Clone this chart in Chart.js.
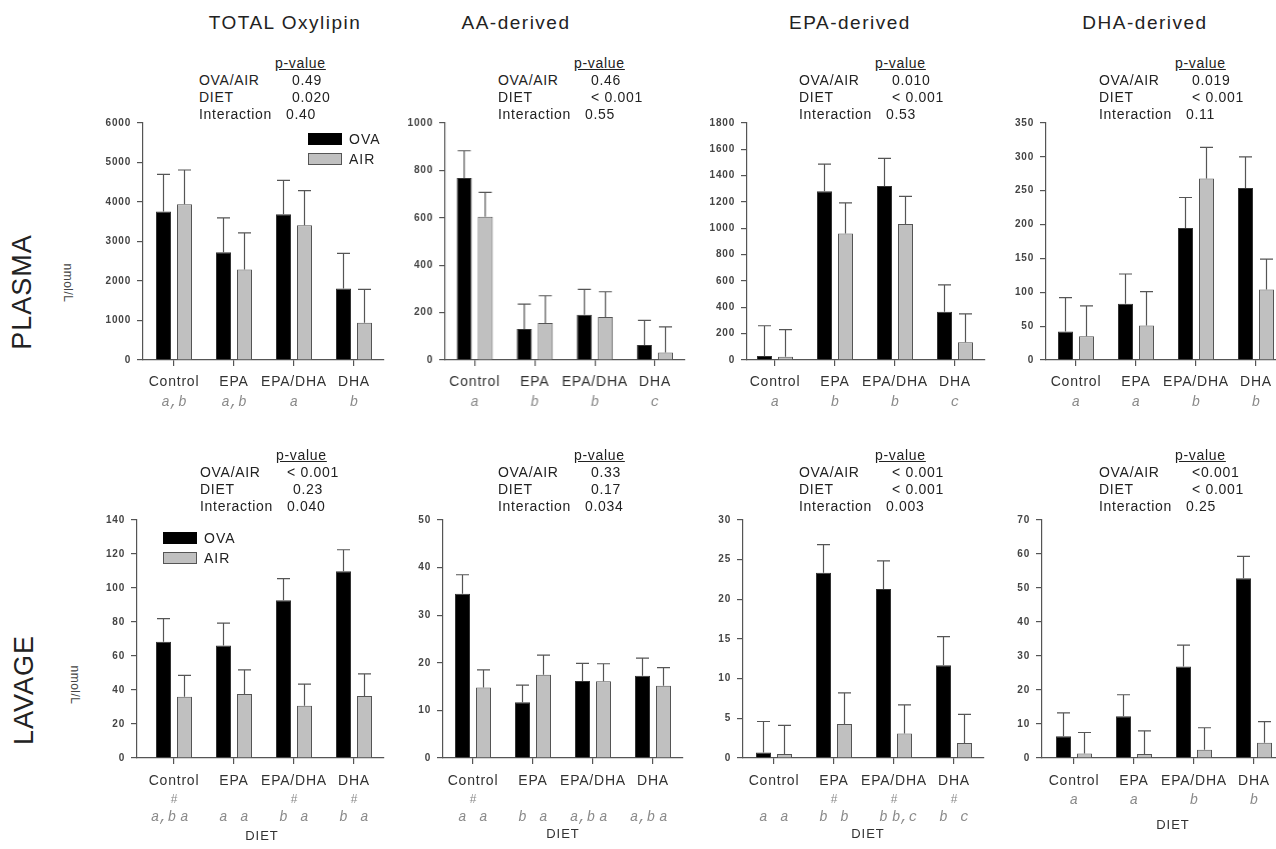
<!DOCTYPE html>
<html>
<head>
<meta charset="utf-8">
<script src="https://cdn.jsdelivr.net/npm/chart.js@4.4.0/dist/chart.umd.min.js"></script>
<style>
body { margin: 0; width: 1276px; height: 849px; overflow: hidden; background: #fff; position: relative;
       font-family: 'Liberation Sans', Arial, sans-serif; color: #222; }
canvas { position: absolute; }
.t { position: absolute; white-space: pre; line-height: 1; }
</style>
</head>
<body>
<script>
// Kategorien (Diät)
const dieten = ['Control', 'EPA', 'EPA/DHA', 'DHA'];
const titel = ['TOTAL Oxylipin', 'AA-derived', 'EPA-derived', 'DHA-derived'];

// PLASMA - Mittelwerte und Fehler (obere Fehlerbalken)
const totalPlasmaOva = [3760, 2730, 3690, 1810];
const totalPlasmaOvaErr = [940, 870, 860, 890];
const totalPlasmaAir = [3940, 2290, 3410, 940];
const totalPlasmaAirErr = [870, 930, 880, 850];

const aaPlasmaOva = [768, 131, 191, 63];
const aaPlasmaOvaErr = [115, 105, 107, 104];
const aaPlasmaAir = [604, 156, 181, 32];
const aaPlasmaAirErr = [103, 115, 107, 108];

const epaPlasmaOva = [30, 1282, 1322, 366];
const epaPlasmaOvaErr = [230, 205, 210, 205];
const epaPlasmaAir = [25, 961, 1032, 135];
const epaPlasmaAirErr = [205, 233, 210, 216];

const dhaPlasmaOva = [42, 83, 195, 254];
const dhaPlasmaOvaErr = [50, 44, 45, 46];
const dhaPlasmaAir = [35, 51, 268, 104];
const dhaPlasmaAirErr = [45, 50, 46, 45];

// LAVAGE
const totalLavageOva = [68.4, 66.2, 92.8, 109.8];
const totalLavageOvaErr = [13.6, 13.1, 12.7, 12.7];
const totalLavageAir = [36.1, 37.7, 30.7, 36.5];
const totalLavageAirErr = [12.5, 14.1, 12.7, 13];

const aaLavageOva = [34.5, 11.7, 16.2, 17.3];
const aaLavageOvaErr = [4.0, 3.6, 3.7, 3.7];
const aaLavageAir = [14.8, 17.5, 16.1, 15.2];
const aaLavageAirErr = [3.7, 4.1, 3.7, 3.8];

const epaLavageOva = [0.7, 23.35, 21.3, 11.7];
const epaLavageOvaErr = [3.9, 3.55, 3.55, 3.6];
const epaLavageAir = [0.5, 4.3, 3.1, 1.9];
const epaLavageAirErr = [3.6, 3.9, 3.6, 3.6];

const dhaLavageOva = [6.4, 12.3, 26.9, 52.9];
const dhaLavageOvaErr = [6.9, 6.3, 6.3, 6.4];
const dhaLavageAir = [1.3, 1.2, 2.4, 4.5];
const dhaLavageAirErr = [6.2, 6.8, 6.5, 6.2];

// Y-Achsen (Maximum, Schrittweite)
const yMax = [6000, 1000, 1800, 350, 140, 50, 30, 70];
const yStep = [1000, 200, 200, 50, 20, 10, 5, 10];

// p-Werte
const pOvaAir = ['0.49', '0.46', '0.010', '0.019', '< 0.001', '0.33', '< 0.001', '<0.001'];
const pDiet = ['0.020', '< 0.001', '< 0.001', '< 0.001', '0.23', '0.17', '< 0.001', '< 0.001'];
const pInteraction = ['0.40', '0.55', '0.53', '0.11', '0.040', '0.034', '0.003', '0.25'];

// Buchstaben unter den Gruppen
const lettersTotalPlasma = ['a,b', 'a,b', 'a', 'b'];
const lettersAaPlasma = ['a', 'b', 'b', 'c'];
const lettersEpaPlasma = ['a', 'b', 'b', 'c'];
const lettersDhaPlasma = ['a', 'a', 'b', 'b'];
const lettersTotalLavageOva = ['a,b', 'a', 'b', 'b'];
const lettersTotalLavageAir = ['a', 'a', 'a', 'a'];
const hashTotalLavage = [true, false, true, true];
const lettersAaLavageOva = ['a', 'b', 'a,b', 'a,b'];
const lettersAaLavageAir = ['a', 'a', 'a', 'a'];
const hashAaLavage = [true, false, false, false];
const lettersEpaLavageOva = ['a', 'b', 'b', 'b'];
const lettersEpaLavageAir = ['a', 'b', 'b,c', 'c'];
const hashEpaLavage = [false, true, true, true];
const lettersDhaLavage = ['a', 'a', 'b', 'b'];

const FONT = "'Liberation Sans', Arial, sans-serif";
Chart.defaults.font.family = FONT;

// Layout
const AXIS_W = 50, PAD_TOP = 10, PAD_R = 4, XAXIS_H = 100, SP = 60;
const panelLeft = [143, 445, 747, 1046, 137, 443, 743, 1042];
const panelFirst = [174, 474.5, 775, 1076, 174, 473, 774, 1074];
const rowTop = [121, 518];
const rowZero = [360, 758];

const panels = [
    {ova: totalPlasmaOva, ovaErr: totalPlasmaOvaErr, air: totalPlasmaAir, airErr: totalPlasmaAirErr, group: lettersTotalPlasma},
    {ova: aaPlasmaOva, ovaErr: aaPlasmaOvaErr, air: aaPlasmaAir, airErr: aaPlasmaAirErr, group: lettersAaPlasma},
    {ova: epaPlasmaOva, ovaErr: epaPlasmaOvaErr, air: epaPlasmaAir, airErr: epaPlasmaAirErr, group: lettersEpaPlasma},
    {ova: dhaPlasmaOva, ovaErr: dhaPlasmaOvaErr, air: dhaPlasmaAir, airErr: dhaPlasmaAirErr, group: lettersDhaPlasma},
    {ova: totalLavageOva, ovaErr: totalLavageOvaErr, air: totalLavageAir, airErr: totalLavageAirErr,
        ovaL: lettersTotalLavageOva, airL: lettersTotalLavageAir, hash: hashTotalLavage},
    {ova: aaLavageOva, ovaErr: aaLavageOvaErr, air: aaLavageAir, airErr: aaLavageAirErr,
        ovaL: lettersAaLavageOva, airL: lettersAaLavageAir, hash: hashAaLavage},
    {ova: epaLavageOva, ovaErr: epaLavageOvaErr, air: epaLavageAir, airErr: epaLavageAirErr,
        ovaL: lettersEpaLavageOva, airL: lettersEpaLavageAir, hash: hashEpaLavage},
    {ova: dhaLavageOva, ovaErr: dhaLavageOvaErr, air: dhaLavageAir, airErr: dhaLavageAirErr, group: lettersDhaLavage}
];

// Fehlerbalken zeichnen
const errorBars = {
    id: 'errorBars',
    afterDatasetsDraw(chart) {
        const ctx = chart.ctx, y = chart.scales.y;
        ctx.save();
        ctx.strokeStyle = '#555';
        ctx.lineWidth = 1.2;
        chart.data.datasets.forEach((ds, di) => {
            chart.getDatasetMeta(di).data.forEach((bar, i) => {
                const top = y.getPixelForValue(ds.data[i].y + ds.err[i]);
                ctx.beginPath();
                ctx.moveTo(bar.x, bar.y);
                ctx.lineTo(bar.x, top);
                ctx.moveTo(bar.x - 6.5, top);
                ctx.lineTo(bar.x + 6.5, top);
                ctx.stroke();
            });
        });
        ctx.restore();
    }
};

function makeLetters(p) {
    return {
        id: 'letters',
        beforeDraw(chart) {
            chart.ctx.letterSpacing = '0.8px';
        },
        afterDraw(chart) {
            const ctx = chart.ctx, x = chart.scales.x, zero = chart.chartArea.bottom;
            const hasHash = p.hash && p.hash.some(h => h);
            const yL = zero + (hasHash ? 59 : 42);
            ctx.save();
            ctx.letterSpacing = '0px';
            ctx.textAlign = 'center';
            ctx.textBaseline = 'middle';
            ctx.fillStyle = '#8a8a8a';
            dieten.forEach((d, i) => {
                const cx = x.getPixelForValue(i);
                if (p.hash && p.hash[i]) {
                    ctx.font = '12px "Liberation Mono", monospace';
                    ctx.fillText('#', cx, zero + 42);
                }
                ctx.font = 'italic 14px "Liberation Mono", monospace';
                if (p.group) {
                    ctx.fillText(p.group[i], cx, yL);
                } else {
                    const o = chart.getDatasetMeta(0).data[i], a = chart.getDatasetMeta(1).data[i];
                    ctx.fillText(p.ovaL[i], o.x, yL);
                    ctx.fillText(p.airL[i], a.x, yL);
                }
            });
            ctx.restore();
        }
    };
}

panels.forEach((p, k) => {
    const row = k < 4 ? 0 : 1;
    const L = panelLeft[k], c0 = panelFirst[k];
    const T = rowTop[row], Z = rowZero[row];
    const R = c0 + 3.5 * SP;
    const cv = document.createElement('canvas');
    const w = AXIS_W + (R - L) + PAD_R, h = PAD_TOP + (Z - T) + XAXIS_H;
    cv.width = w; cv.height = h;
    cv.style.width = w + 'px'; cv.style.height = h + 'px';
    cv.style.left = (L - AXIS_W) + 'px';
    cv.style.top = (T - PAD_TOP) + 'px';
    document.body.appendChild(cv);

    new Chart(cv, {
        type: 'bar',
        data: {
            datasets: [{
                label: 'OVA', data: p.ova.map((v, i) => ({x: i, y: v})), err: p.ovaErr,
                backgroundColor: '#000', borderColor: '#333', borderWidth: 1
            }, {
                label: 'AIR', data: p.air.map((v, i) => ({x: i, y: v})), err: p.airErr,
                backgroundColor: '#c0c0c0', borderColor: '#555', borderWidth: 1
            }]
        },
        options: {
            responsive: false, animation: false,
            layout: {padding: {top: PAD_TOP, right: PAD_R, left: 0, bottom: 0}},
            plugins: {legend: {display: false}, tooltip: {enabled: false}},
            datasets: {bar: {categoryPercentage: 0.7, barPercentage: 0.714}},
            scales: {
                x: {
                    type: 'linear', min: -(c0 - L) / SP, max: 3.5, offset: false,
                    afterBuildTicks: s => { s.ticks = dieten.map((d, i) => ({value: i})); },
                    afterFit: s => { s.height = XAXIS_H; },
                    ticks: {
                        callback: v => dieten[v], autoSkip: false, maxRotation: 0,
                        font: {size: 14}, color: '#333', padding: row === 0 ? 8 : 9
                    },
                    grid: {drawOnChartArea: false, offset: false, tickLength: 6, color: '#555', lineWidth: 1.2},
                    border: {color: '#555', width: 1.2}
                },
                y: {
                    min: 0, max: yMax[k],
                    afterFit: s => { s.width = AXIS_W; },
                    ticks: {stepSize: yStep[k], callback: v => String(v), font: {size: 10, weight: 'bold'}, color: '#444', padding: 6},
                    grid: {drawOnChartArea: false, tickLength: 6, color: '#555', lineWidth: 1.2},
                    border: {color: '#555', width: 1.2}
                }
            }
        },
        plugins: [errorBars, makeLetters(p)]
    });
});

// Texte
function txt(s, x, y, css, transform) {
    const d = document.createElement('div');
    d.className = 't';
    d.textContent = s;
    d.style.left = x + 'px';
    d.style.top = y + 'px';
    d.style.transform = transform || 'translateY(-50%)';
    Object.assign(d.style, css);
    document.body.appendChild(d);
    return d;
}

const titleX = [285, 516, 850, 1145];
titel.forEach((t, i) => txt(t, titleX[i], 22, {fontSize: '19px', letterSpacing: '1.5px', color: '#222'}, 'translate(-50%,-50%)'));

const pBlockX = [199, 498, 799, 1099, 200, 498, 799, 1099];
const pBlockY = [63, 455];
const pCss = {fontSize: '14px', letterSpacing: '0.7px', color: '#222'};
pBlockX.forEach((x0, k) => {
    const y0 = pBlockY[k < 4 ? 0 : 1];
    txt('p-value', x0 + 76, y0, Object.assign({textDecoration: 'underline'}, pCss));
    txt('OVA/AIR', x0, y0 + 17, pCss);
    txt('DIET', x0, y0 + 34, pCss);
    txt('Interaction', x0, y0 + 51, pCss);
    txt(pOvaAir[k], x0 + (pOvaAir[k][0] === '<' && k === 4 ? 87 : 93), y0 + 17, pCss);
    txt(pDiet[k], x0 + 93, y0 + 34, pCss);
    txt(pInteraction[k], x0 + 87, y0 + 51, pCss);
});

// Legenden
function legend(x, y) {
    [['OVA', '#000', '#000'], ['AIR', '#c0c0c0', '#555']].forEach((e, i) => {
        const b = document.createElement('div');
        Object.assign(b.style, {position: 'absolute', left: x + 'px', top: (y + i * 20) + 'px', width: '32px', height: '10px',
            background: e[1], border: '1px solid ' + e[2]});
        document.body.appendChild(b);
        txt(e[0], x + 41, y + i * 20 + 6, {fontSize: '14px', letterSpacing: '1px', color: '#222'});
    });
}
legend(308, 133);
legend(163, 532);

// Zeilenbeschriftungen
txt('PLASMA', 22, 292, {fontSize: '27px', letterSpacing: '1px', color: '#222'}, 'translate(-50%,-50%) rotate(-90deg)');
txt('LAVAGE', 24, 690, {fontSize: '27px', letterSpacing: '1px', color: '#222'}, 'translate(-50%,-50%) rotate(-90deg)');
txt('nmol/L', 68, 283, {fontSize: '12px', letterSpacing: '0.5px', color: '#444'}, 'translate(-50%,-50%) rotate(90deg)');
txt('nmol/L', 75, 685, {fontSize: '12px', letterSpacing: '0.5px', color: '#444'}, 'translate(-50%,-50%) rotate(90deg)');

const dietX = [262, 563, 868, 1173];
const dietY = [835, 833, 833, 824];
dietX.forEach((x, i) => txt('DIET', x, dietY[i], {fontSize: '13px', letterSpacing: '1px', color: '#333'}, 'translate(-50%,-50%)'));
</script>
</body>
</html>
